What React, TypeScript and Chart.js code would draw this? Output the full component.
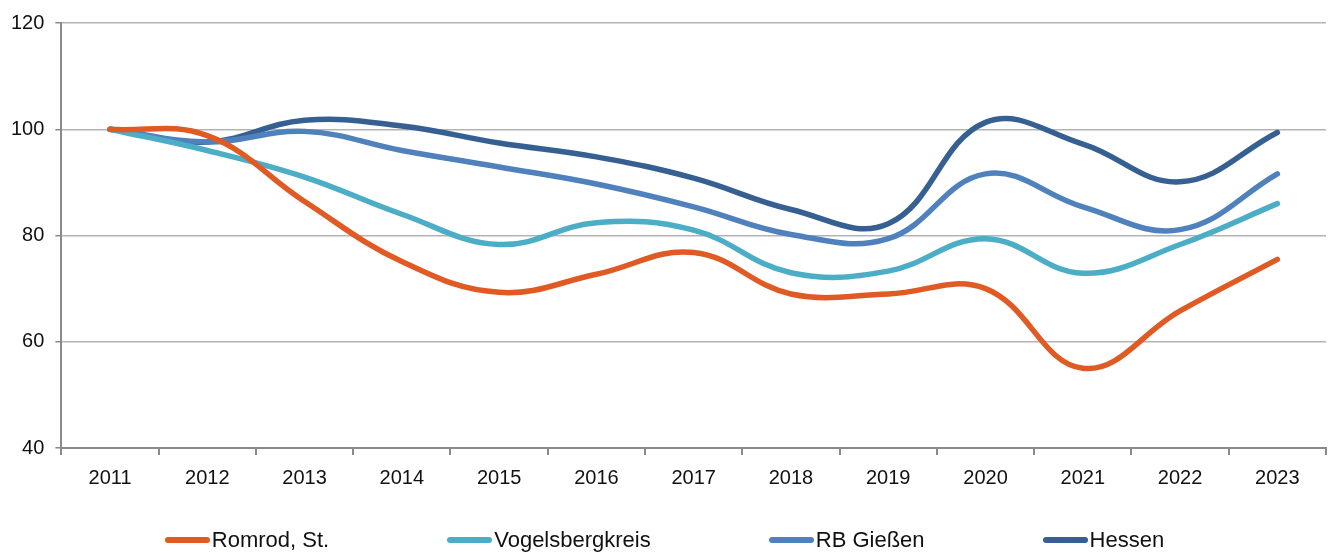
import React, { useEffect, useRef } from "react";
import { Chart, registerables } from "chart.js";

Chart.register(...registerables);

const years = ["2011", "2012", "2013", "2014", "2015", "2016", "2017", "2018", "2019", "2020", "2021", "2022", "2023"];
const romrod = [100, 98.8, 86.4, 75.1, 69.3, 72.7, 76.8, 69.0, 69.0, 70.0, 55.0, 65.8, 75.5];
const vogelsberg = [100, 96.0, 91.0, 84.0, 78.3, 82.4, 81.0, 73.0, 73.3, 79.4, 72.9, 78.3, 86.0];
const rbGiessen = [100, 97.6, 99.6, 96.0, 92.9, 89.7, 85.4, 80.2, 79.4, 91.6, 85.4, 81.1, 91.6];
const hessen = [100, 97.6, 101.7, 100.6, 97.4, 94.8, 90.8, 84.9, 82.2, 101.3, 97.2, 90.1, 99.4];

const seriesNames = ["Romrod, St.", "Vogelsbergkreis", "RB Gießen", "Hessen"];
const seriesValues = [romrod, vogelsberg, rbGiessen, hessen];
const seriesColors = ["#E05A24", "#4BADC6", "#4F81BD", "#366092"];

const yMin = 40;
const yMax = 120;
const yStep = 20;

const FONT_FAMILY = "'Liberation Sans', Arial, sans-serif";

export default function App() {
  const ref = useRef<HTMLCanvasElement | null>(null);

  useEffect(() => {
    document.body.style.margin = "0";
    const canvas = ref.current;
    if (!canvas) return;
    const chart = new Chart(canvas, {
      type: "line",
      data: {
        labels: years,
        datasets: seriesNames.map((name, i) => ({
          label: name,
          data: seriesValues[i],
          borderColor: seriesColors[i],
          backgroundColor: seriesColors[i],
          borderWidth: 5.5,
          borderCapStyle: "round" as const,
          borderJoinStyle: "round" as const,
          pointRadius: 0,
          tension: 0.4,
          fill: false,
        })),
      },
      options: {
        responsive: false,
        animation: false,
        layout: { padding: { left: 0, right: 3, top: 11, bottom: 55 } },
        plugins: {
          legend: { display: false },
          tooltip: { enabled: false },
        },
        scales: {
          x: {
            offset: true,
            grid: {
              drawOnChartArea: false,
              offset: true,
              tickLength: 7,
              color: "#8a8a8a",
              tickColor: "#8a8a8a",
              lineWidth: 2,
            },
            border: { color: "#8a8a8a", width: 2 },
            ticks: {
              padding: 11,
              color: "#111",
              font: { family: FONT_FAMILY, size: 20 },
            },
          },
          y: {
            min: yMin,
            max: yMax,
            ticks: {
              stepSize: yStep,
              padding: 11,
              color: "#111",
              font: { family: FONT_FAMILY, size: 20 },
            },
            grid: {
              color: "#b3b3b3",
              lineWidth: 1.5,
              tickLength: 6,
              tickColor: "#8a8a8a",
            },
            border: { color: "#8a8a8a", width: 2 },
          },
        },
      },
    });
    return () => chart.destroy();
  }, []);

  return (
    <div style={{ position: "relative", width: 1329, height: 556, background: "#fff" }}>
      <canvas ref={ref} width={1329} height={556} style={{ display: "block" }} />
      <div
        style={{
          position: "absolute",
          left: 0,
          top: 524,
          width: 1329,
          height: 32,
          display: "flex",
          justifyContent: "center",
          alignItems: "center",
          gap: 118,
          fontFamily: FONT_FAMILY,
          fontSize: 22,
          color: "#111",
        }}
      >
        {seriesNames.map((name, i) => (
          <div key={name} style={{ display: "flex", alignItems: "center" }}>
            <span
              style={{
                display: "inline-block",
                width: 45,
                height: 6,
                borderRadius: 3,
                background: seriesColors[i],
                marginRight: 2,
              }}
            />
            <span>{name}</span>
          </div>
        ))}
      </div>
    </div>
  );
}
